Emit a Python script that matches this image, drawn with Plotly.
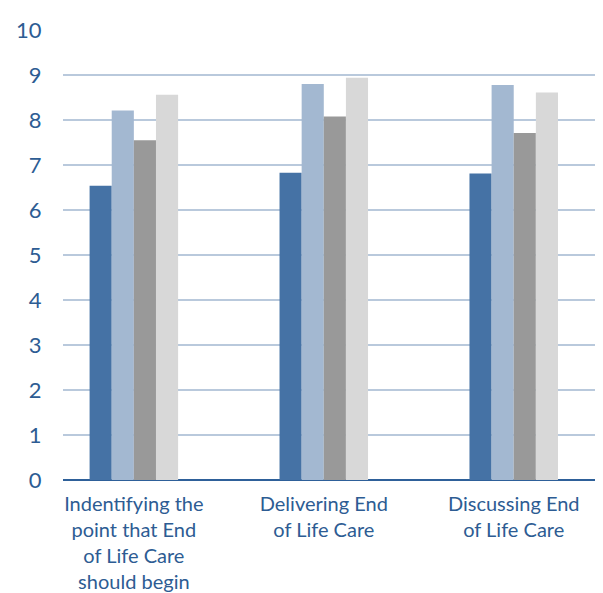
import plotly.graph_objects as go

categories = [
    "Indentifying the<br>point that End<br>of Life Care<br>should begin",
    "Delivering End<br>of Life Care",
    "Discussing End<br>of Life Care",
]
series_names = ["Series 1", "Series 2", "Series 3", "Series 4"]
series_values = [
    [6.54, 6.83, 6.81],
    [8.21, 8.80, 8.78],
    [7.55, 8.08, 7.71],
    [8.56, 8.94, 8.61],
]
series_colors = ["#4572A5", "#A3B8D1", "#999999", "#D8D8D8"]
y_ticks = [0, 1, 2, 3, 4, 5, 6, 7, 8, 9, 10]

fig = go.Figure()
for name, vals, col in zip(series_names, series_values, series_colors):
    fig.add_trace(go.Bar(x=categories, y=vals, name=name, marker_color=col,
                         marker_line_width=0))

text_color = "#2D5C93"
fig.update_layout(
    width=603, height=593,
    margin=dict(l=46, r=8, t=16, b=121),
    paper_bgcolor="white", plot_bgcolor="white",
    barmode="group", bargap=0.534, bargroupgap=0,
    showlegend=False,
    font=dict(family="Lato, sans-serif", size=20, color=text_color),
)
fig.update_xaxes(
    type="category", range=[-0.373, 2.47],
    showgrid=False, showline=False, zeroline=False,
    ticks="outside", ticklen=6, tickcolor="rgba(0,0,0,0)",
    tickfont=dict(size=20, color=text_color),
)
fig.update_yaxes(
    range=[0, 10], tickvals=y_ticks,
    showgrid=True, gridcolor="#B9C9DC", gridwidth=1.5,
    zeroline=True, zerolinecolor="#2E6099", zerolinewidth=2,
    showline=False,
    ticks="outside", ticklen=16, tickcolor="rgba(0,0,0,0)",
    tickfont=dict(size=22, color=text_color),
)
fig.write_html("out.html")
